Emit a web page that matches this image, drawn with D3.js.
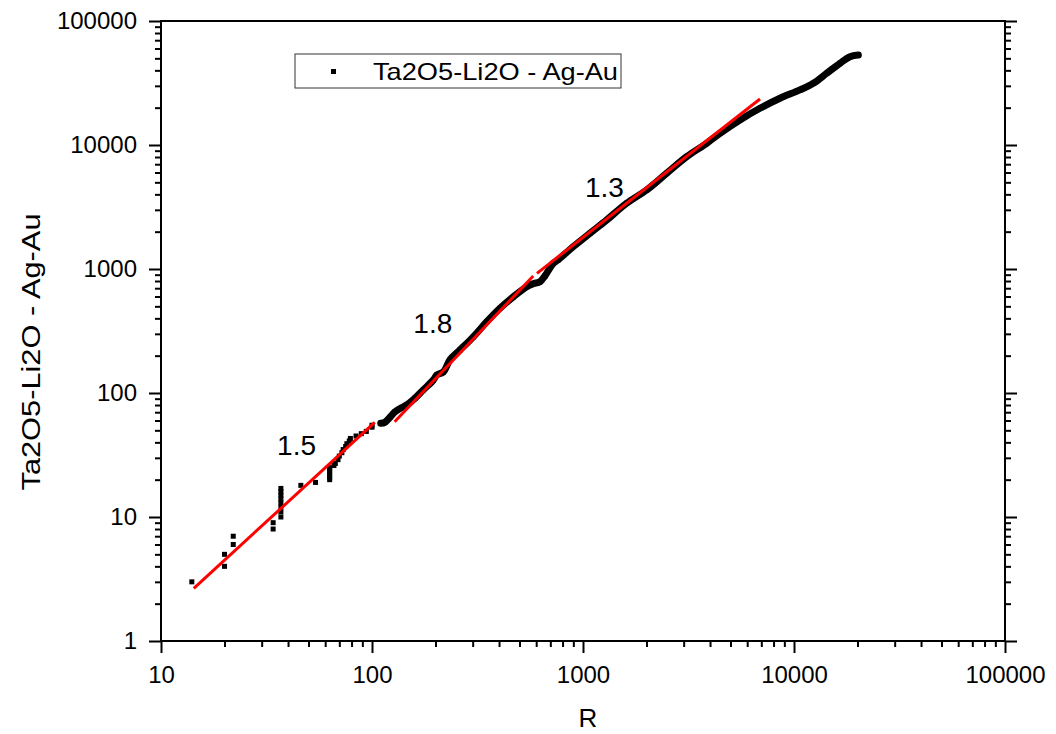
<!DOCTYPE html>
<html>
<head>
<meta charset="utf-8">
<script src="https://cdn.jsdelivr.net/npm/d3@7/dist/d3.min.js"></script>
<style>
  html, body { margin: 0; padding: 0; background: #fff; }
  svg { display: block; }
  text { font-family: "Liberation Sans", Arial, sans-serif; fill: #000; }
</style>
</head>
<body>
<svg id="chart" width="1056" height="734"></svg>
<script>
// Sparse low-R observations: [R, count]
const sparseR = [14, 20, 20, 22, 22, 34, 34, 37, 37, 37, 37, 37, 37, 37, 37, 46, 54,
  63, 63, 63, 63, 63, 63, 66, 67, 69, 70, 72, 73, 75, 76, 78, 79, 84, 89, 94, 100, 100];
const sparseV = [3, 4, 5, 6, 7, 8, 9, 10, 11, 12, 13, 14, 15, 16, 17, 18, 19,
  20, 21, 22, 23, 24, 25, 26, 27, 29, 31, 33, 35, 37, 39, 41, 43, 45, 47, 49, 53, 55];

// Dense part of the distribution: [R, count]
const denseR = [110, 115, 122, 128, 136, 146, 160, 175, 195, 203, 218, 234, 261, 302, 350,
  404, 468, 541, 580, 625, 660, 723, 760, 899, 1079, 1295, 1610, 2003, 2492, 3100, 3856,
  4457, 5546, 6900, 8586, 10670, 12350, 14290, 16520, 18420, 20180];
const denseV = [57, 58, 64, 70, 75, 80, 91, 106, 127, 140, 148, 185, 222, 284, 376,
  482, 598, 720, 760, 790, 880, 1112, 1180, 1514, 1941, 2485, 3388, 4337, 5911, 8054, 10320,
  12420, 15920, 19780, 23820, 27800, 31470, 37880, 45600, 51540, 53200];

// Power-law fits: end points [R, value] and their exponents
const fitNames = ["1.5", "1.8", "1.3"];
const fitStart = [[14.3, 2.66], [128, 58.7], [605, 922]];
const fitEnd = [[103, 58], [581, 878], [6900, 23500]];
const fitLabelAt = [[35.5, 31.6], [157, 303], [1021, 3785]];

// Axis ticks
const xMajor = [10, 100, 1000, 10000, 100000];
const yMajor = [1, 10, 100, 1000, 10000, 100000];
const xTickLabels = ["10", "100", "1000", "10000", "100000"];
const yTickLabels = ["1", "10", "100", "1000", "10000", "100000"];

const seriesName = "Ta2O5-Li2O - Ag-Au";
const xTitle = "R";
const yTitle = "Ta2O5-Li2O - Ag-Au";

const svg = d3.select("#chart");
const plotL = 161, plotR = 1005, plotT = 21, plotB = 641;

const x = d3.scaleLog().domain([10, 100000]).range([plotL, plotR]);
const y = d3.scaleLog().domain([1, 100000]).range([plotB, plotT]);

function minorTicks(majors) {
  const out = [];
  for (let i = 0; i < majors.length - 1; i++) {
    for (let k = 2; k <= 9; k++) out.push(majors[i] * k);
  }
  return out;
}
const xMinor = minorTicks(xMajor);
const yMinor = minorTicks(yMajor);

function styleAxis(g) {
  g.select(".domain").remove();
  g.selectAll("line").attr("stroke", "#000").attr("stroke-width", 2);
  g.selectAll("text").style("font-size", "24px").attr("fill", "#000");
}

// Bottom axis
svg.append("g").attr("transform", `translate(0,${plotB})`)
  .call(d3.axisBottom(x).tickValues(xMinor).tickSize(6).tickFormat(""))
  .call(styleAxis);
svg.append("g").attr("transform", `translate(0,${plotB})`)
  .call(d3.axisBottom(x).tickValues(xMajor).tickSize(12).tickPadding(13)
    .tickFormat((d, i) => xTickLabels[i]))
  .call(styleAxis);

// Left axis
svg.append("g").attr("transform", `translate(${plotL},0)`)
  .call(d3.axisLeft(y).tickValues(yMinor).tickSize(6).tickFormat(""))
  .call(styleAxis);
svg.append("g").attr("transform", `translate(${plotL},0)`)
  .call(d3.axisLeft(y).tickValues(yMajor).tickSize(12).tickPadding(12)
    .tickFormat((d, i) => yTickLabels[i]))
  .call(styleAxis);

// Right axis (ticks only)
svg.append("g").attr("transform", `translate(${plotR},0)`)
  .call(d3.axisRight(y).tickValues(yMinor).tickSize(6).tickFormat(""))
  .call(styleAxis);
svg.append("g").attr("transform", `translate(${plotR},0)`)
  .call(d3.axisRight(y).tickValues(yMajor).tickSize(12).tickFormat(""))
  .call(styleAxis);

// Frame
svg.append("rect")
  .attr("x", plotL).attr("y", plotT)
  .attr("width", plotR - plotL).attr("height", plotB - plotT)
  .attr("fill", "none").attr("stroke", "#000").attr("stroke-width", 2);

// Dense data drawn as a thick trace with square markers
const dense = denseR.map((r, i) => [r, denseV[i]]);
svg.append("path")
  .datum(dense)
  .attr("d", d3.line().x(d => x(d[0])).y(d => y(d[1])).curve(d3.curveCatmullRom))
  .attr("fill", "none").attr("stroke", "#000")
  .attr("stroke-width", 7).attr("stroke-linecap", "round").attr("stroke-linejoin", "round");

const msize = 5;
const sparse = sparseR.map((r, i) => [r, sparseV[i]]);
svg.append("g").selectAll("rect")
  .data(sparse.concat(dense))
  .join("rect")
  .attr("x", d => x(d[0]) - msize / 2)
  .attr("y", d => y(d[1]) - msize / 2)
  .attr("width", msize).attr("height", msize)
  .attr("fill", "#000");

// Fit lines
svg.append("g").selectAll("line")
  .data(fitNames.map((n, i) => ({ a: fitStart[i], b: fitEnd[i] })))
  .join("line")
  .attr("x1", d => x(d.a[0])).attr("y1", d => y(d.a[1]))
  .attr("x2", d => x(d.b[0])).attr("y2", d => y(d.b[1]))
  .attr("stroke", "#ff0000").attr("stroke-width", 3);

svg.append("g").selectAll("text")
  .data(fitNames.map((n, i) => ({ n, p: fitLabelAt[i] })))
  .join("text")
  .attr("x", d => x(d.p[0])).attr("y", d => y(d.p[1]))
  .style("font-size", "28px")
  .text(d => d.n);

// Legend
const lg = svg.append("g");
lg.append("rect").attr("x", 295).attr("y", 54).attr("width", 326).attr("height", 34)
  .attr("fill", "#fff").attr("stroke", "#333").attr("stroke-width", 1);
lg.append("rect").attr("x", 331).attr("y", 69).attr("width", 5).attr("height", 5).attr("fill", "#000");
lg.append("text").attr("x", 373).attr("y", 80)
  .style("font-size", "24px")
  .attr("textLength", 245).attr("lengthAdjust", "spacingAndGlyphs")
  .text(seriesName);

// Axis titles
svg.append("text").attr("x", 588).attr("y", 727)
  .attr("text-anchor", "middle").style("font-size", "26px").text(xTitle);
svg.append("text")
  .attr("transform", "translate(40,352) rotate(-90)")
  .attr("text-anchor", "middle").style("font-size", "26px")
  .attr("textLength", 277).attr("lengthAdjust", "spacingAndGlyphs")
  .text(yTitle);
</script>
</body>
</html>
